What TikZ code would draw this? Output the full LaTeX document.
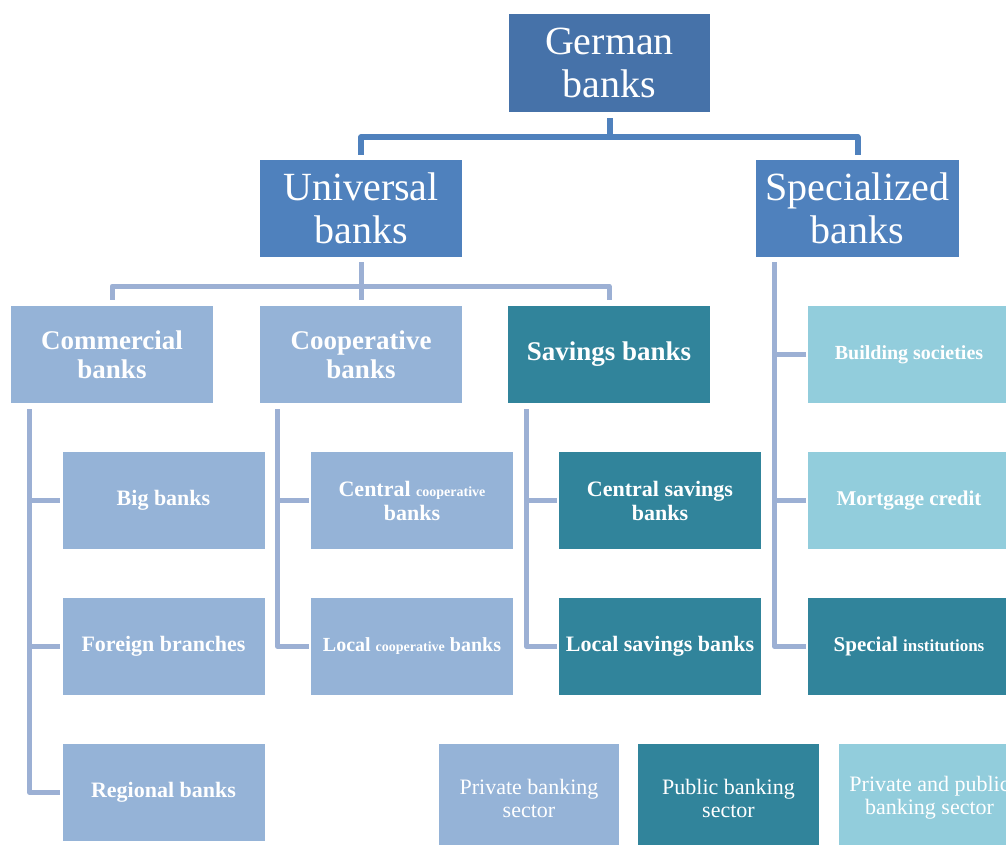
\documentclass[tikz,border=0pt]{standalone}
\usepackage{fontspec}
\setmainfont{Liberation Serif}
\usetikzlibrary{calc}
\definecolor{cTop}{HTML}{4672A9}
\definecolor{cMid}{HTML}{4F81BD}
\definecolor{cLight}{HTML}{95B3D7}
\definecolor{cTeal}{HTML}{31849B}
\definecolor{cCyan}{HTML}{92CDDC}
\definecolor{cLine}{HTML}{9CB0D4}
\tikzset{
  box/.style={rectangle, inner sep=0pt, align=center, text=white, minimum width=202pt, minimum height=97pt},
  big/.style={box, font=\fontsize{40}{43}\selectfont},
  mid/.style={box, font=\bfseries\fontsize{27}{29}\selectfont},
  small/.style={box, font=\bfseries\fontsize{22}{24}\selectfont},
  legend/.style={box, minimum width=181pt, minimum height=108pt, font=\fontsize{22}{23}\selectfont},
  c1/.style={draw=cMid, line width=6pt, line join=round},
  c2/.style={draw=cLine, line width=5pt, line join=round},
}
\begin{document}
\begin{tikzpicture}[x=1pt,y=-1pt]
\useasboundingbox[fill=white] (0,0) rectangle (1006,845);
\begin{scope}
\clip (0,0) rectangle (1006,845);
% level 0/1
\node[big, fill=cTop, minimum width=201pt, minimum height=98pt] (german) at (609.5,63) {German\\banks};
\node[big, fill=cMid] (universal) at (361,208.5) {Universal\\banks};
\node[big, fill=cMid, minimum width=203pt] (specialized) at (857.5,208.5) {Specialized\\banks};
% level 2
\node[mid, fill=cLight] (commercial) at (112,354.5) {Commercial\\banks};
\node[mid, fill=cLight] (cooperative) at (361,354.5) {Cooperative\\banks};
\node[mid, fill=cTeal] (savings) at (609,354.5) {Savings banks};
% level 3
\node[small, fill=cLight] (bigb) at (163.5,500.5) {Big banks};
\node[small, fill=cLight] (foreign) at (163.5,646.5) {Foreign branches};
\node[small, fill=cLight] (regional) at (163.5,792.5) {Regional banks};
\node[small, fill=cLight] (centralcoop) at (412,500.5) {Central {\fontsize{14}{16}\selectfont cooperative}\\banks};
\node[small, fill=cLight] (localcoop) at (412,646.5) {\fontsize{20}{22}\selectfont Local {\fontsize{14}{16}\selectfont cooperative} banks};
\node[small, fill=cTeal] (centralsav) at (660,500.5) {Central savings\\banks};
\node[small, fill=cTeal] (localsav) at (660,646.5) {Local savings banks};
\node[small, fill=cCyan, font=\bfseries\fontsize{20}{22}\selectfont] (building) at (909,354.5) {Building societies};
\node[small, fill=cCyan, font=\bfseries\fontsize{21}{23}\selectfont] (mortgage) at (909,500.5) {Mortgage credit};
\node[small, fill=cTeal, font=\bfseries\fontsize{21}{23}\selectfont] (special) at (909,646.5) {Special {\fontsize{17}{19}\selectfont institutions}};
% legend
\node[legend, fill=cLight, minimum width=180pt] (private) at (529,798) {Private banking\\sector};
\node[legend, fill=cTeal] (public) at (728.5,798) {Public banking\\sector};
\node[legend, fill=cCyan] (privpub) at (929.5,798) {Private and public\\banking sector};
% connectors level 1
\draw[c1, shorten <=6pt, shorten >=5pt] (german.south) -- ++(0,25) -| (universal.north);
\draw[c1, shorten <=6pt, shorten >=5pt] (german.south) -- ++(0,25) -| (specialized.north);
% connectors level 2
\draw[c2, shorten <=5pt, shorten >=6pt] (universal.south) -- ++(0,29) -| (commercial.north);
\draw[c2, shorten <=5pt, shorten >=6pt] (universal.south) -- ++(0,29) -| (cooperative.north);
\draw[c2, shorten <=5pt, shorten >=6pt] (universal.south) -- ++(0,29) -| (savings.north);
% children
\coordinate (comS) at ($(commercial.south west)+(19,6)$);
\draw[c2, shorten >=2pt] (comS) |- (bigb.west);
\draw[c2, shorten >=2pt] (comS) |- (foreign.west);
\draw[c2, shorten >=2pt] (comS) |- (regional.west);
\coordinate (coopS) at ($(cooperative.south west)+(18,6)$);
\draw[c2, shorten >=2pt] (coopS) |- (centralcoop.west);
\draw[c2, shorten >=2pt] (coopS) |- (localcoop.west);
\coordinate (savS) at ($(savings.south west)+(19,6)$);
\draw[c2, shorten >=2pt] (savS) |- (centralsav.west);
\draw[c2, shorten >=2pt] (savS) |- (localsav.west);
\coordinate (speS) at ($(specialized.south west)+(19,5)$);
\draw[c2, shorten >=2pt] (speS) |- (building.west);
\draw[c2, shorten >=2pt] (speS) |- (mortgage.west);
\draw[c2, shorten >=2pt] (speS) |- (special.west);
\end{scope}
\end{tikzpicture}
\end{document}
